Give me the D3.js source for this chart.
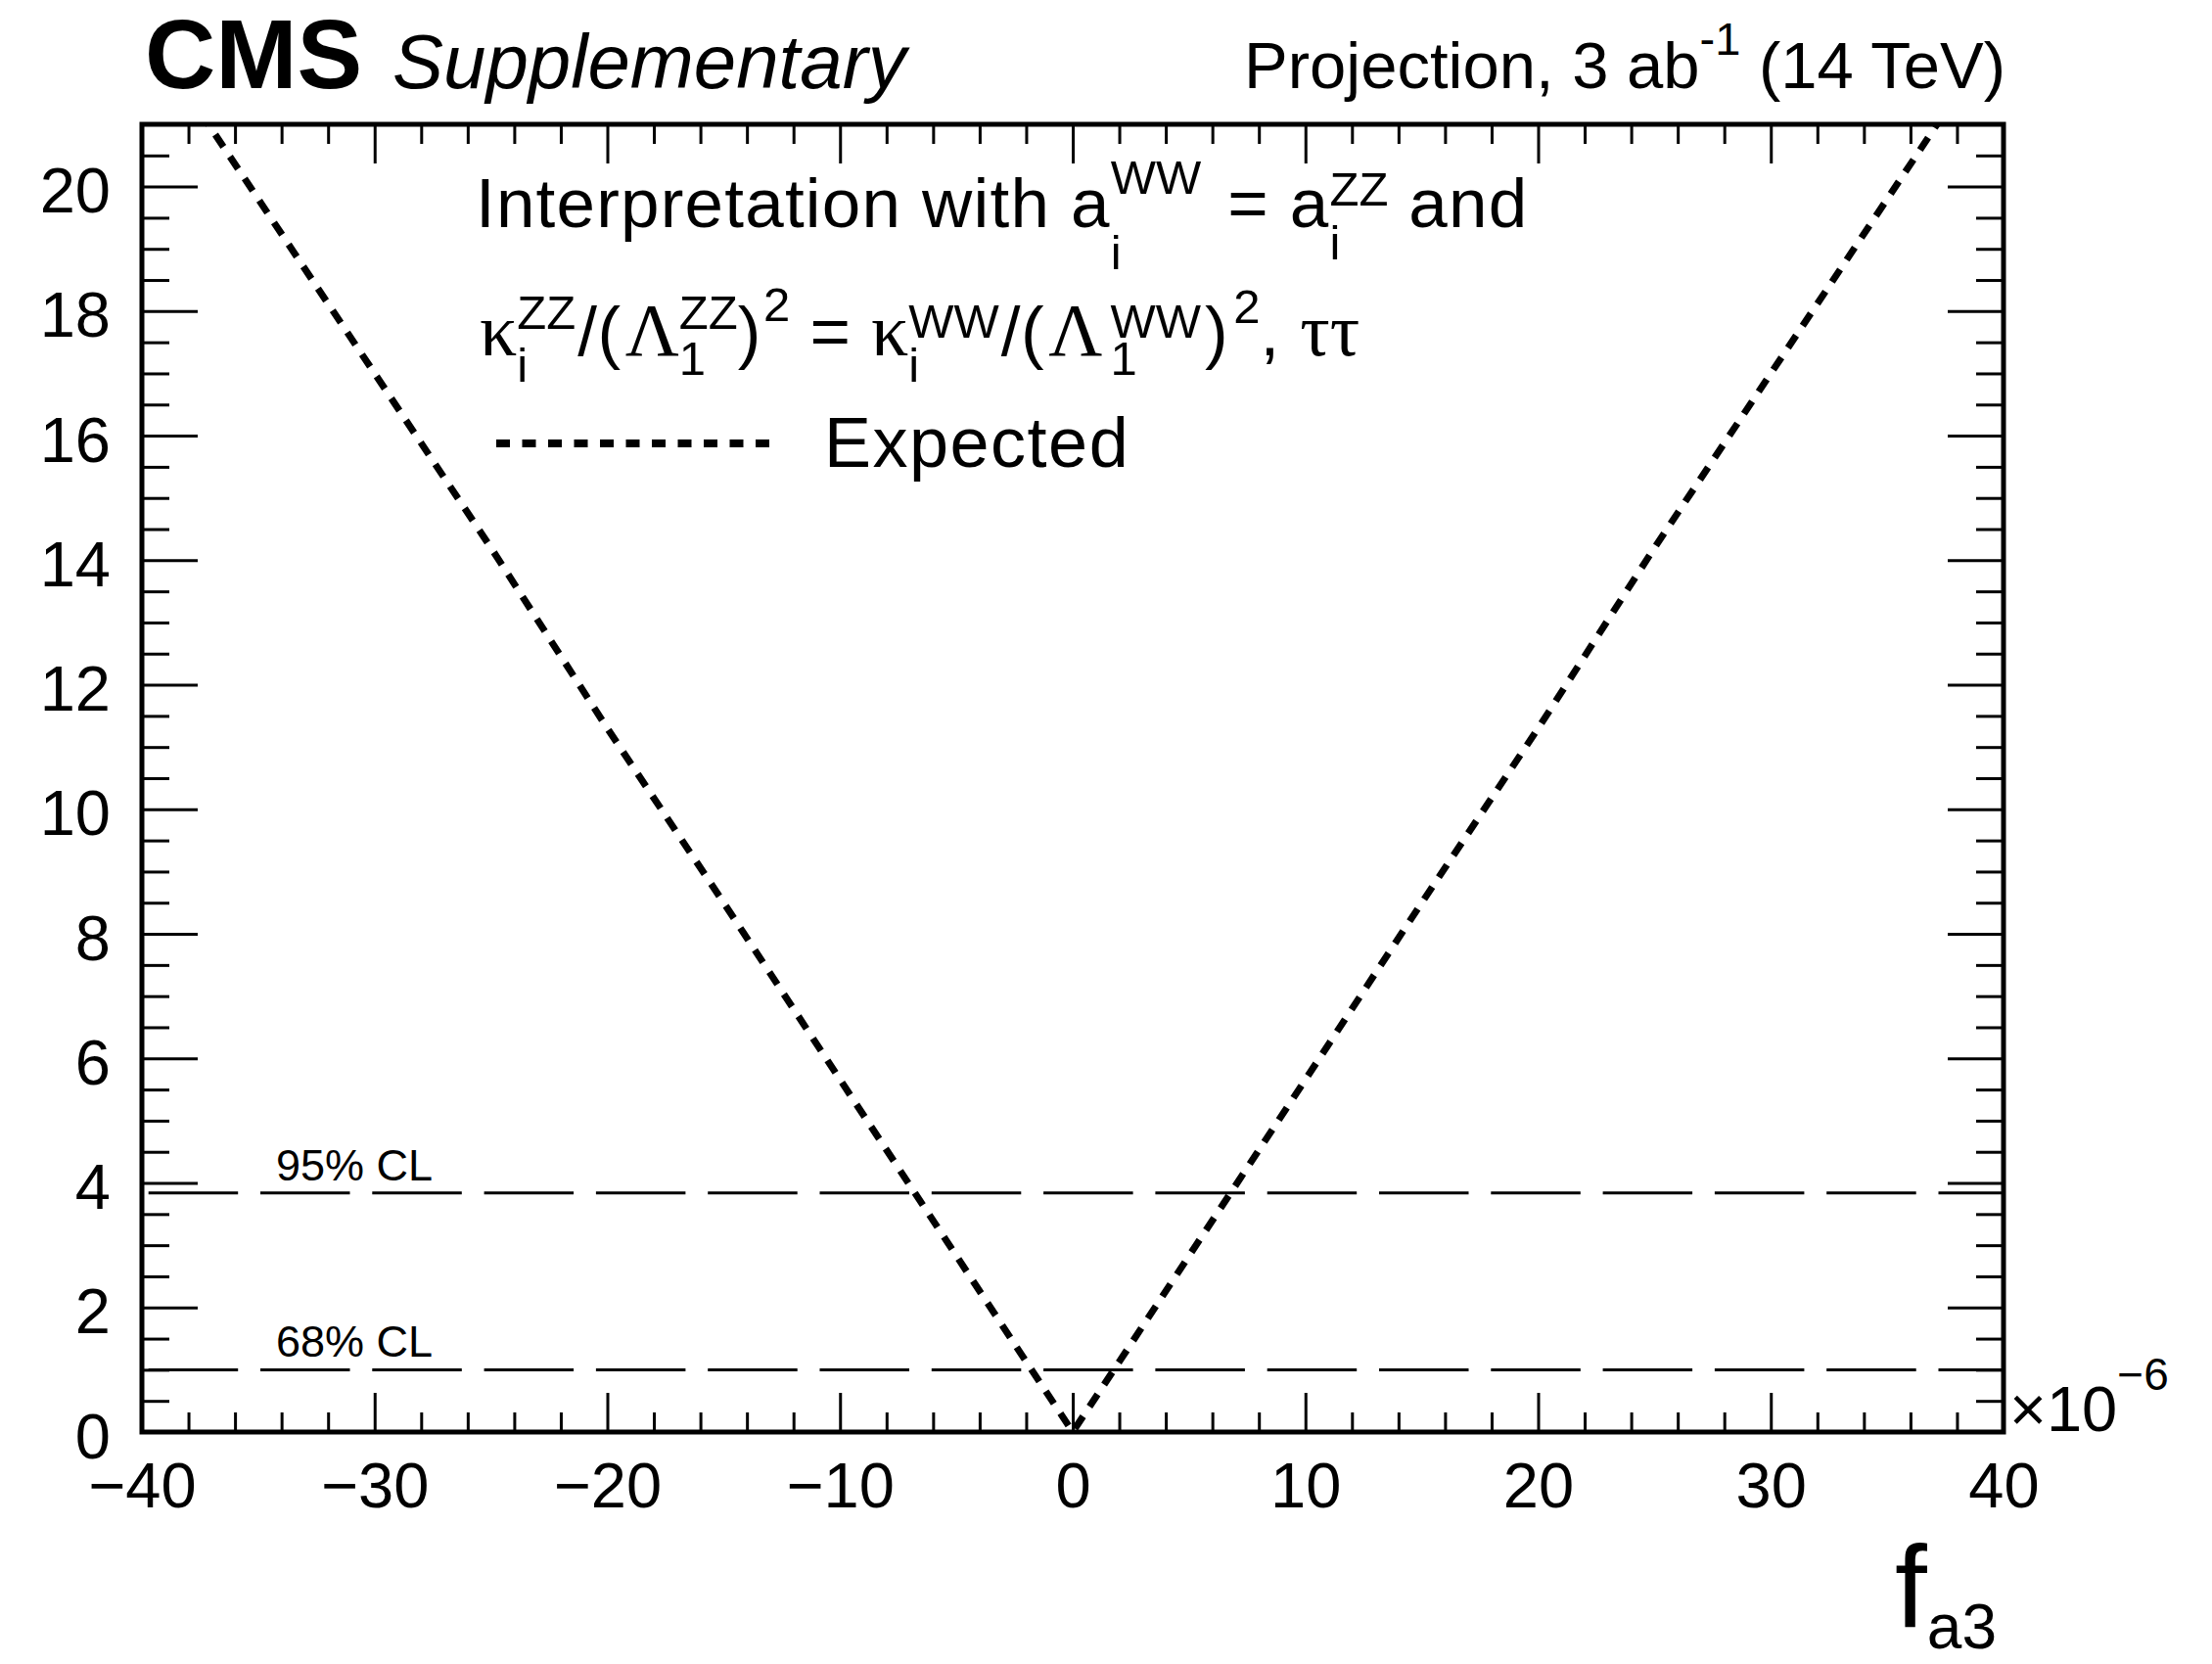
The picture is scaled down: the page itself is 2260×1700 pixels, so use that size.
<!DOCTYPE html>
<html lang="en">
<head>
<meta charset="utf-8">
<style>
  body { margin: 0; background: #fff; }
  text { white-space: pre; }
</style>
</head>
<body>
<svg id="mysvg" width="2260" height="1700"></svg>
<script src="https://cdn.jsdelivr.net/npm/d3@7"></script>
<script>
// expected -2 delta lnL scan vs f_a3 (x 1e-6)
var fa3 = [-40, -35, -30, -25, -20, -15, -10, -5, -2, 0, 2, 5, 10, 15, 20, 25, 30, 35, 40];
var expected = [22.6, 19.8, 17.0, 14.2, 11.3, 8.5, 5.66, 2.83, 1.13, 0, 1.13, 2.83, 5.66, 8.5, 11.3, 14.2, 17.0, 19.8, 22.6];

// confidence level lines
var clLabels = ["68% CL", "95% CL"];
var clValues = [1.0, 3.84];

var xTicks = [-40, -30, -20, -10, 0, 10, 20, 30, 40];
var yTicks = [0, 2, 4, 6, 8, 10, 12, 14, 16, 18, 20];

var L = 145, R = 2047, T = 127, B = 1463;
var font = "'Liberation Sans', Arial, Helvetica, sans-serif";
var serif = "'Liberation Serif', 'Times New Roman', serif";

var svg = d3.select("#mysvg");

var x = d3.scaleLinear().domain([-40, 40]).range([L, R]);
var y = d3.scaleLinear().domain([0, 21]).range([B, T]);

var xMinor = d3.range(-40, 40.1, 2).filter(function(v){ return v % 10 != 0; });
var yMinor = d3.range(0, 21.01, 0.5).filter(function(v){ return v % 2 != 0; });

var fmt = function(d){ return d < 0 ? "\u2212" + (-d) : "" + d; };

function tidy(g){
    g.select(".domain").remove();
    g.selectAll(".tick line").attr("stroke", "#000").attr("stroke-width", 3);
    g.attr("font-family", font).attr("font-size", 65);
}

// axes: ticks inward on all 4 sides
svg.append("g").attr("transform", "translate(0," + B + ")")
    .call(d3.axisBottom(x).tickValues(xTicks).tickSize(-40).tickFormat(fmt))
    .call(tidy)
    .selectAll("text").attr("y", 77).attr("dy", 0).attr("fill", "#000");
svg.append("g").attr("transform", "translate(0," + B + ")")
    .call(d3.axisBottom(x).tickValues(xMinor).tickSize(-20).tickFormat(""))
    .call(tidy);
svg.append("g").attr("transform", "translate(0," + T + ")")
    .call(d3.axisTop(x).tickValues(xTicks).tickSize(-40).tickFormat(""))
    .call(tidy);
svg.append("g").attr("transform", "translate(0," + T + ")")
    .call(d3.axisTop(x).tickValues(xMinor).tickSize(-20).tickFormat(""))
    .call(tidy);

svg.append("g").attr("transform", "translate(" + L + ",0)")
    .call(d3.axisLeft(y).tickValues(yTicks).tickSize(-57).tickFormat(fmt))
    .call(tidy)
    .selectAll("text").attr("x", -32).attr("dy", "0.4em").attr("fill", "#000");
svg.append("g").attr("transform", "translate(" + L + ",0)")
    .call(d3.axisLeft(y).tickValues(yMinor).tickSize(-28).tickFormat(""))
    .call(tidy);
svg.append("g").attr("transform", "translate(" + R + ",0)")
    .call(d3.axisRight(y).tickValues(yTicks).tickSize(-57).tickFormat(""))
    .call(tidy);
svg.append("g").attr("transform", "translate(" + R + ",0)")
    .call(d3.axisRight(y).tickValues(yMinor).tickSize(-28).tickFormat(""))
    .call(tidy);

// clip
svg.append("clipPath").attr("id", "plotclip")
    .append("rect").attr("x", L).attr("y", T).attr("width", R - L).attr("height", B - T);

// CL lines
svg.selectAll(".cl").data(clValues).enter().append("line")
    .attr("class", "cl")
    .attr("x1", x(-40)).attr("x2", x(40))
    .attr("y1", function(d){ return y(d); }).attr("y2", function(d){ return y(d); })
    .attr("stroke", "#000").attr("stroke-width", 3)
    .attr("stroke-dasharray", "91.5,22.8")
    .attr("stroke-dashoffset", 107.6)
    .attr("clip-path", "url(#plotclip)");

svg.selectAll(".cllab").data(clValues).enter().append("text")
    .attr("x", 282)
    .attr("y", function(d){ return y(d) - 13; })
    .attr("font-family", font).attr("font-size", 45)
    .text(function(d, i){ return clLabels[i]; });

// expected curve
var lineFunction = d3.line()
    .x(function(d, i){ return x(fa3[i]); })
    .y(function(d){ return y(d); });

svg.append("path")
    .attr("d", lineFunction(expected))
    .attr("fill", "none")
    .attr("stroke", "#000")
    .attr("stroke-width", 7)
    .attr("stroke-dasharray", "15,12")
    .attr("clip-path", "url(#plotclip)");

// frame
svg.append("rect")
    .attr("x", L).attr("y", T).attr("width", R - L).attr("height", B - T)
    .attr("fill", "none").attr("stroke", "#000").attr("stroke-width", 5);

// rich text helper: runs placed one after another, stacks share x
function rich(cx, cy, runs, anchorEnd, spacing){
    var g = svg.append("g");
    var cur = cx;
    function put(r, at){
        var t = g.append("text")
            .attr("x", at).attr("y", cy + (r.dy || 0))
            .attr("font-family", r.fam || font)
            .attr("font-size", r.size || 71)
            .attr("letter-spacing", r.size ? null : (spacing || null))
            .text(r.t);
        return t.node().getComputedTextLength();
    }
    runs.forEach(function(r){
        if(r.stack){
            var w = 0;
            r.stack.forEach(function(s){ w = Math.max(w, put(s, cur)); });
            cur += w + (r.pad || 0);
        } else {
            cur += put(r, cur) + (r.pad || 0);
        }
    });
    if(anchorEnd){
        g.attr("transform", "translate(" + (cx - cur) + ",0)");
    }
    return g;
}

// header
svg.append("text").attr("x", 148).attr("y", 90)
    .attr("font-family", font).attr("font-weight", "bold").attr("font-size", 100)
    .text("CMS");
svg.append("text").attr("x", 401).attr("y", 90)
    .attr("font-family", font).attr("font-style", "italic").attr("font-size", 78)
    .text("Supplementary");
rich(2049, 90, [
    {t: "Projection, 3 ab", size: 67},
    {t: "-1", size: 47, dy: -34},
    {t: " (14 TeV)", size: 67}
], true);

// legend
var sub = 49;
rich(486, 232, [
    {t: "Interpretation with a"},
    {stack: [{t: "WW", size: sub, dy: -34}, {t: "i", size: sub, dy: 43}], pad: 6},
    {t: " = a"},
    {stack: [{t: "ZZ", size: sub, dy: -22}, {t: "i", size: sub, dy: 33}], pad: 0},
    {t: " and"}
], false, 1.2);
rich(490, 363, [
    {t: "\u03BA", fam: serif, size: 76},
    {stack: [{t: "ZZ", size: sub, dy: -27}, {t: "i", size: sub, dy: 27}], pad: 2},
    {t: "/(", pad: 4},
    {t: "\u039B", fam: serif, size: 76},
    {stack: [{t: "ZZ", size: sub, dy: -27}, {t: "1", size: sub, dy: 20}], pad: 0},
    {t: ")", pad: 2},
    {t: "2", size: sub, dy: -35},
    {t: " = ", pad: 0},
    {t: "\u03BA", fam: serif, size: 76},
    {stack: [{t: "WW", size: sub, dy: -18}, {t: "i", size: sub, dy: 27}], pad: 2},
    {t: "/(", pad: 4},
    {t: "\u039B", fam: serif, size: 76, pad: 8},
    {stack: [{t: "WW", size: sub, dy: -18}, {t: "1", size: sub, dy: 20}], pad: 4},
    {t: ")", pad: 5},
    {t: "2", size: sub, dy: -33},
    {t: ", ", pad: 0},
    {t: "\u03C4\u03C4", fam: serif, size: 76}
], false, 0.6);

svg.append("line")
    .attr("x1", 507).attr("x2", 786).attr("y1", 453).attr("y2", 453)
    .attr("stroke", "#000").attr("stroke-width", 8)
    .attr("stroke-dasharray", "14,12.5");
svg.append("text").attr("x", 842).attr("y", 477)
    .attr("font-family", font).attr("font-size", 72).attr("letter-spacing", 1.5)
    .text("Expected");

// exponent and axis title
rich(2053, 1462, [
    {t: "\u00D710", size: 65},
    {t: "\u22126", size: 46, dy: -42}
]);
rich(1936, 1662, [
    {t: "f", size: 118},
    {t: "a3", size: 64, dy: 22}
]);
</script>
</body>
</html>
